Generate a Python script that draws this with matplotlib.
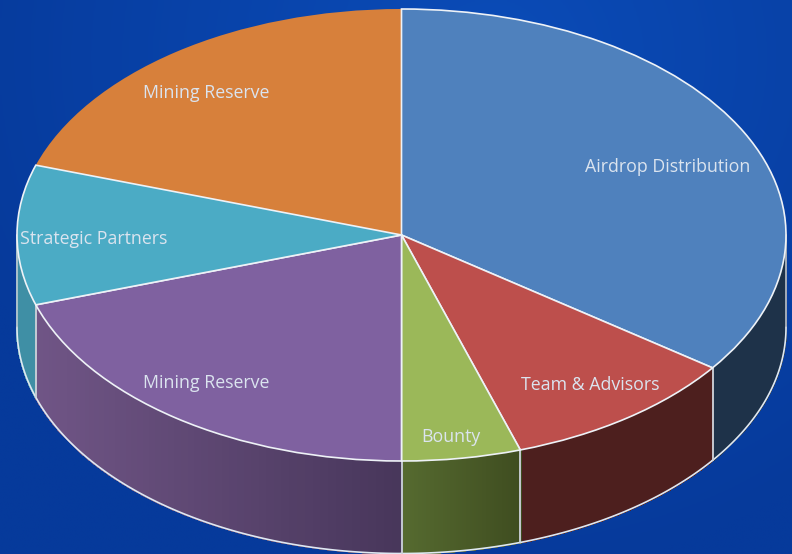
import numpy as np
import matplotlib
matplotlib.use('Agg')
import matplotlib.pyplot as plt

# reparto del pie, en sentido horario desde arriba
labels = ['Airdrop Distribution', 'Team & Advisors', 'Bounty', 'Mining Reserve', 'Strategic Partners', 'Mining Reserve']
values = [35, 10, 5, 20, 10, 20]
colors = ['#4f81bd', '#bd4f4c', '#9bb859', '#7f61a0', '#4babc5', '#d7803b']
side_left = ['#1e3249', '#4d1f1e', '#566b30', '#705586', '#3f8fa5', '#a8602a']
side_right = ['#1e3249', '#4d1f1e', '#3f4d20', '#47365a', '#3f8fa5', '#a8602a']
label_px = [(668, 167), (590, 385), (451, 437), (206, 383), (94, 239), (206, 93)]

W, H = 792, 554
cx, cy, rx, ry, depth = 401.5, 235, 384.5, 226, 92.5

fig = plt.figure(figsize=(W/100, H/100), dpi=100)

# fondo azul
bg = fig.add_axes([0, 0, 1, 1])
yy, xx = np.mgrid[0:1:200j, 0:1:280j]
r = np.sqrt((xx-0.62)**2 + ((yy-0.1)*0.75)**2)
c0 = np.array([11, 76, 184])/255
c1 = np.array([6, 58, 155])/255
t = np.clip(r/0.7, 0, 1)[..., None]
bg.imshow(c0*(1-t)+c1*t, aspect='auto', extent=[0, 1, 1, 0])
bg.axis('off')

ax = fig.add_axes([0, 0, 1, 1])
ax.patch.set_alpha(0)
wedges, _ = ax.pie(values, colors=colors, startangle=90, counterclock=False,
                   radius=1, wedgeprops={'edgecolor': '#eef2f7', 'linewidth': 1.2})
ax.set_aspect('auto')
ax.set_xlim(-cx/rx, (W-cx)/rx)
ax.set_ylim(-(H-cy)/ry, cy/ry)
ax.axis('off')
dz = depth/ry

def mix(a, b, f):
    a = np.array(matplotlib.colors.to_rgb(a))
    b = np.array(matplotlib.colors.to_rgb(b))
    return a*(1-f)+b*f

# paredes del cilindro
for i, w in enumerate(wedges):
    a = min(w.theta1, w.theta2)
    b = max(w.theta1, w.theta2)
    # normalizar a -360..0 y quedarse con la parte frontal (-180..0)
    if b > 0 and a >= 0:
        a, b = a-360, b-360
    a2 = max(a, -180)
    b2 = min(b, 0)
    if b2 <= a2:
        continue
    th = np.radians(np.linspace(a2, b2, 61))
    xs0 = np.cos(th[0])
    xs1 = np.cos(th[-1])
    for j in range(60):
        f = (np.cos(th[j])-xs0)/(xs1-xs0)
        tt = np.linspace(th[j], th[j+1], 3)
        px = np.cos(tt)
        py = np.sin(tt)
        col = mix(side_left[i], side_right[i], f)
        ax.fill(np.r_[px, px[::-1]], np.r_[py, py[::-1]-dz],
                facecolor=col, edgecolor=col, lw=1.0, antialiased=False, zorder=1)
    tt = np.linspace(th[0], th[-1], 120)
    ax.plot(np.cos(tt), np.sin(tt)-dz, color='#dfe8f2', lw=1.2, zorder=2)
    # aristas verticales
    for e in (th[0], th[-1]):
        ax.plot([np.cos(e)]*2, [np.sin(e), np.sin(e)-dz], color='#c9ced6', lw=1.1, zorder=2)

# tapa encima de las paredes
for w in wedges:
    w.set_zorder(3)
wedges[5].set_edgecolor('none')
wedges[5].set_zorder(2.5)

for lab, (lx, ly) in zip(labels, label_px):
    ax.text((lx-cx)/rx, (cy-ly)/ry, lab, color='#dbe4ef', ha='center', va='center',
            fontsize=12.8, family='Open Sans', zorder=5)

fig.savefig('out.png', dpi=100)
